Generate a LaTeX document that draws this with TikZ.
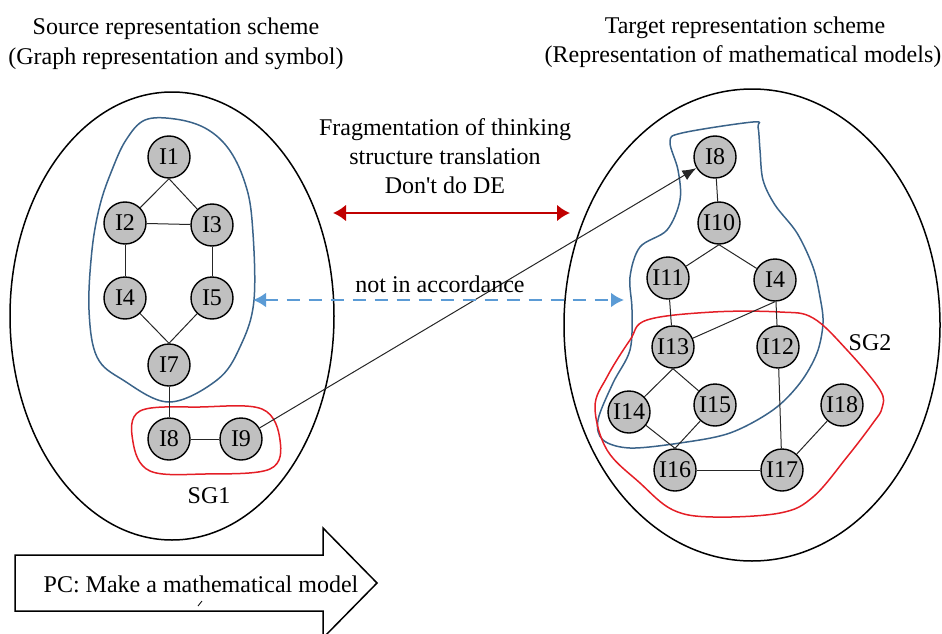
\documentclass[tikz,border=0pt]{standalone}
\usepackage{fontspec}
\setmainfont{Liberation Serif}
\usetikzlibrary{arrows.meta}
\definecolor{nodegray}{HTML}{C0C0C0}
\definecolor{hullblue}{HTML}{3A6389}
\definecolor{hullred}{HTML}{E41E26}
\definecolor{linkred}{HTML}{C00000}
\definecolor{dashblue}{HTML}{5B9BD5}
\begin{document}
\begin{tikzpicture}[x=1pt,y=-1pt,
  font=\fontsize{24}{29}\selectfont,
  item/.style={circle, draw=black, line width=1.4pt, fill=nodegray,
    minimum size=42pt, inner sep=0pt},
  link/.style={draw=black!85, line width=1pt},
  scheme/.style={draw=black, line width=1.5pt},
  hullb/.style={draw=hullblue, line width=1.5pt},
  hullr/.style={draw=hullred, line width=1.5pt},
  label/.style={inner sep=0pt, align=center},
]
\useasboundingbox (0,0) rectangle (942,634);
\clip (0,0) rectangle (942,634);

% headings
\node[label, anchor=base] (srcA) at (176,35) {Source representation scheme};
\node[label, anchor=base] (srcB) at (176,64) {(Graph representation and symbol)};
\node[label, anchor=base] (tgtA) at (745,34) {Target representation scheme};
\node[label, anchor=base] (tgtB) at (743,63) {(Representation of mathematical models)};

% the two representation schemes
\draw[scheme] (172,316) ellipse [x radius=162, y radius=224];
\draw[scheme] (752,325) ellipse [x radius=188, y radius=236];

% subgraph hulls, source side
\draw[hullb] plot[smooth cycle, tension=0.6] coordinates {
  (145,120) (175,119) (205,128) (228,148) (244,180) (252,220) (254,300)
  (240,347) (217,380) (169,402) (123,380) (97,357) (89,310) (92,250)
  (100,205) (112,170) (126,140)};
\draw[hullr] plot[smooth cycle, tension=0.6] coordinates {
  (140,411) (200,407) (262,409) (280,440) (270,469) (205,474) (150,471) (133,442)};

% subgraph hulls, target side
\draw[hullb] plot[smooth cycle, tension=0.55] coordinates {
  (670,142) (682,133) (753,122) (758,127) (760,150) (763,180) (775,205)
  (797,233) (813,267) (820,297) (823,323) (817,353) (800,383) (773,410)
  (730,433) (680,443) (630,448) (603,440) (598,420) (613,383) (630,350)
  (632,310) (630,277) (640,247) (667,230) (680,200) (678,170)};
\draw[hullr] plot[smooth cycle, tension=0.6] coordinates {
  (647,320) (713,312) (780,312) (813,318) (847,350) (880,390) (882,408)
  (873,423) (847,457) (813,497) (780,513) (713,517) (673,510) (640,483)
  (607,450) (595,407) (607,377) (630,340)};

\node[label, anchor=base] (sg1) at (209,503) {SG1};
\node[label, anchor=base] (sg2) at (870,350) {SG2};

% source graph
\node[item] (sI1) at (169,157) {I1};
\node[item] (sI2) at (125,223) {I2};
\node[item] (sI3) at (212,225) {I3};
\node[item] (sI4) at (125,298) {I4};
\node[item] (sI5) at (212,298) {I5};
\node[item] (sI7) at (169,365) {I7};
\node[item] (sI8) at (169,439) {I8};
\node[item] (sI9) at (241,439) {I9};

\draw[link] (sI1.south) -- (sI2);
\draw[link] (sI1.south) -- (sI3);
\draw[link] (sI2) -- (sI3);
\draw[link] (sI2) -- (sI4);
\draw[link] (sI3) -- (sI5);
\draw[link] (sI4) -- (sI7.north);
\draw[link] (sI5) -- (sI7.north);
\draw[link] (sI7) -- (sI8);
\draw[link] (sI8) -- (sI9);

% target graph
\node[item] (tI8)  at (715,157) {I8};
\node[item] (tI10) at (719,223) {I10};
\node[item] (tI11) at (668,278) {I11};
\node[item] (tI4)  at (775,280) {I4};
\node[item] (tI13) at (673,347) {I13};
\node[item] (tI12) at (778,347) {I12};
\node[item] (tI14) at (629,412) {I14};
\node[item] (tI15) at (715,405) {I15};
\node[item] (tI18) at (842,405) {I18};
\node[item] (tI16) at (675,470) {I16};
\node[item] (tI17) at (782,470) {I17};

\draw[link] (tI8) -- (tI10);
\draw[link] (tI10.south) -- (tI11);
\draw[link] (tI10.south) -- (tI4);
\draw[link] (tI11) -- (tI13);
\draw[link] (tI4.south) -- (tI13);
\draw[link] (tI4) -- (tI12);
\draw[link] (tI13.south) -- (tI14);
\draw[link] (tI13.south) -- (tI15);
\draw[link] (tI14) -- (tI16.north);
\draw[link] (tI15) -- (tI16.north);
\draw[link] (tI12) -- (tI17);
\draw[link] (tI16) -- (tI17);
\draw[link] (tI18) -- (tI17);

% I9 is carried over to I8 of the target scheme
\draw[link, -{Latex[length=14pt,width=11pt]}] (sI9) -- (tI8);

% relation between the schemes
\node[label] (frag) at (445,156) {Fragmentation of thinking\\structure translation\\Don\textquotesingle t do DE};
\coordinate (redL) at (333,213);
\coordinate (redR) at (570,213);
\draw[draw=linkred, line width=2.6pt,
  {Latex[length=13pt,width=17pt]}-{Latex[length=13pt,width=17pt]}] (redL) -- (redR);

\node[label, anchor=base] (acc) at (440,292) {not in accordance};
\coordinate (blueL) at (253,300);
\coordinate (blueR) at (624,300);
\draw[draw=dashblue, line width=2.8pt, dash pattern=on 13pt off 9pt,
  {Latex[length=13pt,width=15pt]}-{Latex[length=13pt,width=15pt]}] (blueL) -- (blueR);

% process arrow
\draw[scheme, line join=miter] (15,555) -- (323,555) -- (323,528) -- (377,583)
  -- (323,638) -- (323,611) -- (15,611) -- cycle;
\node[label, anchor=base] (pc) at (201,592) {PC: Make a mathematical model};
\draw[black, line width=0.8pt] (198,606) -- (202,601);
\end{tikzpicture}
\end{document}
